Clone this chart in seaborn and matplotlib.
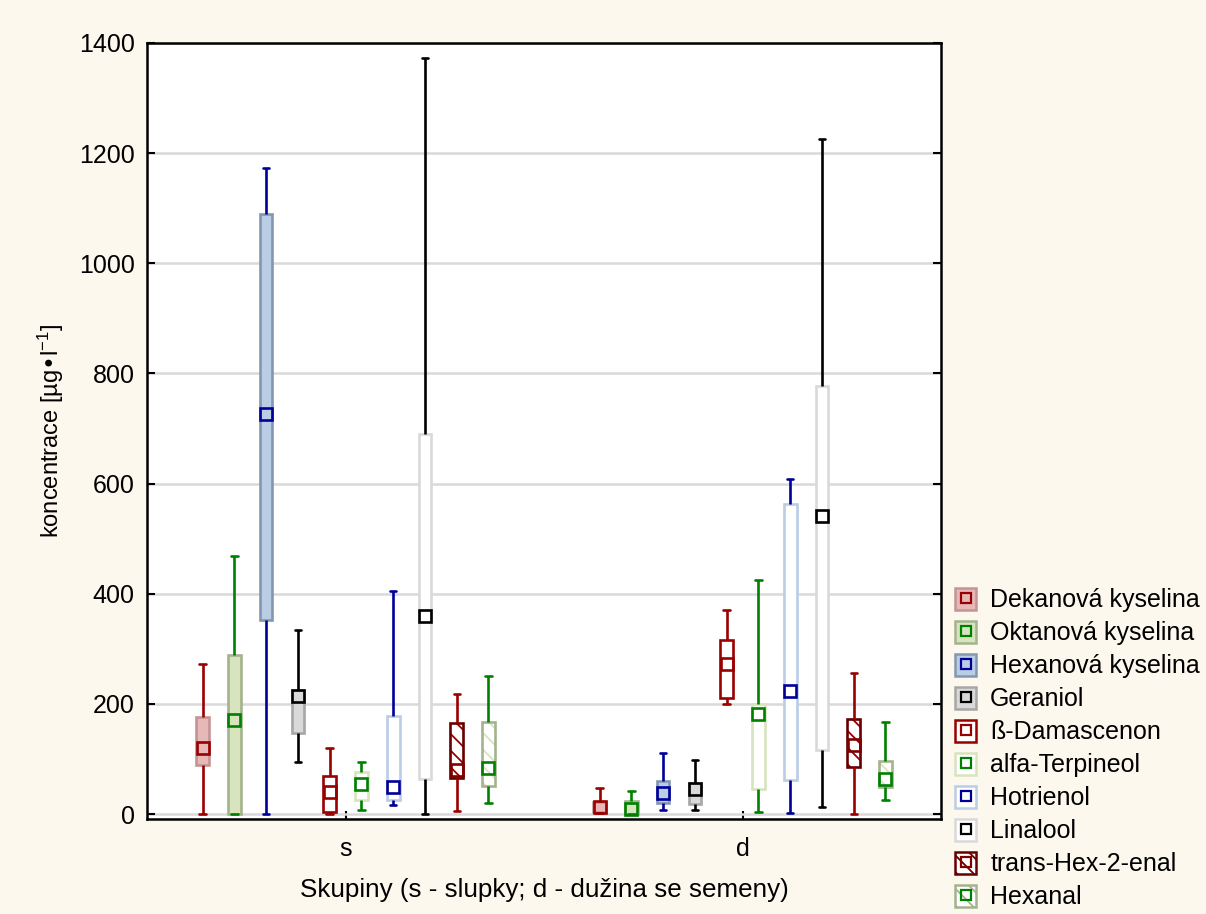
import numpy as np
import pandas as pd
import matplotlib
matplotlib.use("Agg")
import matplotlib.pyplot as plt
import seaborn as sns
from matplotlib.patches import Patch
from matplotlib.lines import Line2D
from matplotlib.colors import to_rgba

# ---------------- data ----------------
groups = ["s", "d"]
compounds = ["Dekanová kyselina", "Oktanová kyselina", "Hexanová kyselina", "Geraniol",
             "ß-Damascenon", "alfa-Terpineol", "Hotrienol", "Linalool",
             "trans-Hex-2-enal", "Hexanal"]

# s - slupky : minimum, lower quartile, median, upper quartile, maximum
s_min = [0, 0, 0, 94, 0, 8, 17, 0, 5, 21]
s_q1 = [90, 1, 352, 147, 3, 25, 25, 63, 66, 51]
s_med = [120, 170, 727, 214, 40, 54, 50, 359, 80, 83]
s_q3 = [176, 288, 1090, 226, 69, 76, 178, 690, 165, 167]
s_max = [272, 469, 1173, 335, 120, 94, 405, 1372, 218, 251]

# d - duzina se semeny
d_min = [2, 0, 8, 8, 200, 4, 2, 12, 0, 25]
d_q1 = [4, 1, 21, 19, 210, 46, 62, 116, 85, 50]
d_med = [13, 10, 39, 46, 272, 181, 224, 541, 125, 64]
d_q3 = [22, 24, 60, 56, 316, 200, 563, 777, 173, 97]
d_max = [47, 42, 110, 98, 370, 425, 609, 1225, 256, 167]

# ---------------- styles ----------------
fill_colors = ["#E6B8B7", "#D7E4BD", "#B9CDE5", "#D9D9D9", "#FFFFFF",
               "#FFFFFF", "#FFFFFF", "#FFFFFF", "#FFFFFF", "#FFFFFF"]
edge_colors = ["#C49494", "#A3B38E", "#8497B0", "#A6A6A6", "#990000",
               "#D7E4BD", "#B9CDE5", "#D9D9D9", "#660000", "#A3B38E"]
whisker_colors = ["#990000", "#008000", "#000099", "#000000", "#990000",
                  "#008000", "#000099", "#000000", "#990000", "#008000"]
marker_colors = ["#990000", "#008000", "#000099", "#000000", "#990000",
                 "#008000", "#000099", "#000000", "#800000", "#008000"]
hatches = [None, None, None, None, None, None, None, None, "\\\\", "\\\\"]
hatch_colors = [None] * 8 + ["#990000", "#D7E4BD"]

rows = []
for g, arrs in zip(groups, [(s_min, s_q1, s_med, s_q3, s_max),
                            (d_min, d_q1, d_med, d_q3, d_max)]):
    for i, c in enumerate(compounds):
        for arr in arrs:
            rows.append({"skupina": g, "latka": c, "hodnota": arr[i]})
df = pd.DataFrame(rows)

sns.set_style("ticks")
plt.rcParams["font.family"] = ["Liberation Sans", "DejaVu Sans"]
plt.rcParams["mathtext.default"] = "regular"
plt.rcParams["hatch.linewidth"] = 1.3
for k in ["text.color", "axes.labelcolor", "xtick.color", "ytick.color"]:
    plt.rcParams[k] = "black"

BG = "#FDF8EE"
fig = plt.figure(figsize=(12.06, 9.14), dpi=100, facecolor=BG)
ax = fig.add_axes([0.1219, 0.1039, 0.6584, 0.8491])
ax.set_facecolor("white")

sns.boxplot(data=df, x="skupina", y="hodnota", hue="latka", order=groups,
            hue_order=compounds, palette=fill_colors, whis=(0, 100),
            width=0.8, gap=0.6, showfliers=False, legend=False,
            linewidth=1.6, ax=ax)

for i, cont in enumerate(ax.containers):
    for b in cont.boxes:
        b.set_facecolor(fill_colors[i])
        b.set_edgecolor(edge_colors[i])
        b.set_linewidth(1.9)
        if hatches[i]:
            b.set_hatch(hatches[i])
            try:
                b._hatch_color = to_rgba(hatch_colors[i])
            except Exception:
                pass
    for ln in list(cont.whiskers) + list(cont.caps):
        ln.set_color(whisker_colors[i])
        ln.set_linewidth(1.9)
    for ln in cont.medians:
        ln.set_visible(False)

n_before = len(ax.lines)
sns.pointplot(data=df, x="skupina", y="hodnota", hue="latka", order=groups,
              hue_order=compounds, palette=marker_colors, estimator="median",
              errorbar=None, dodge=0.72, marker="s", linestyle="none",
              markersize=8, markeredgewidth=1.9, legend=False, ax=ax)
for ln in ax.lines[n_before:]:
    ln.set_markerfacecolor("none")
    ln.set_zorder(5)

ax.set_xlim(-0.5, 1.5)
ax.set_ylim(-9, 1400)
ax.set_yticks(np.arange(0, 1401, 200))
ax.yaxis.grid(True, color="#D9D9D9", linewidth=1.8)
ax.xaxis.grid(False)
ax.set_axisbelow(True)
for sp in ax.spines.values():
    sp.set_visible(True)
    sp.set_color("black")
    sp.set_linewidth(1.8)
ax.tick_params(axis="y", direction="in", length=6, width=1.5, left=True,
               right=True, labelsize=18, pad=9)
ax.tick_params(axis="x", direction="in", length=6, width=1.5, bottom=True,
               top=False, labelsize=18, pad=13)

ax.set_xlabel("Skupiny (s - slupky; d - dužina se semeny)", fontsize=18.7,
              labelpad=12)
ax.set_ylabel("koncentrace [µg•l$^{-1}$]", fontsize=17,
              family=["Liberation Sans Narrow", "Liberation Sans", "DejaVu Sans"],
              labelpad=9)

handles = []
for i in range(len(compounds)):
    p = Patch(facecolor=fill_colors[i], edgecolor=edge_colors[i],
              hatch=hatches[i], linewidth=1.8)
    m = Line2D([], [], marker="s", linestyle="none", markersize=6.5,
               markeredgewidth=1.6, markerfacecolor="none",
               markeredgecolor=marker_colors[i])
    handles.append((p, m))
fig.legend(handles, compounds, loc="upper left", bbox_to_anchor=(0.792, 0.357),
           frameon=False, fontsize=18, handlelength=0.85, handleheight=1.0,
           handletextpad=0.55, labelspacing=0.33, borderaxespad=0,
           borderpad=0)

fig.savefig("out.png", dpi=100, facecolor=BG)
